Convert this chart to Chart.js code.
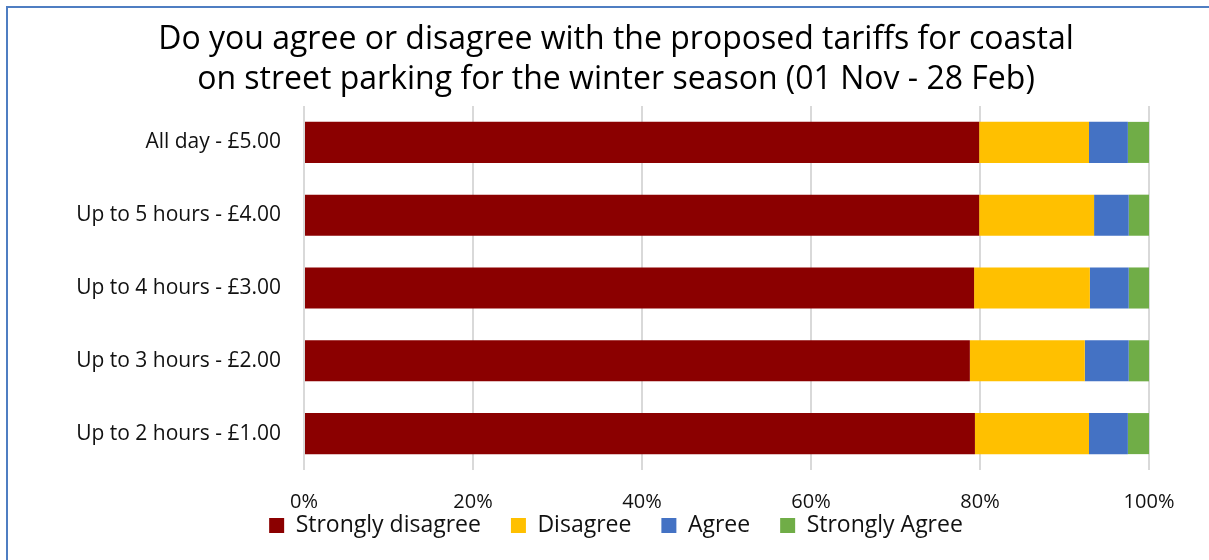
<!DOCTYPE html>
<html>
<head>
<meta charset="utf-8">
<script src="https://cdn.jsdelivr.net/npm/chart.js@4"></script>
<style>
  html, body { margin: 0; padding: 0; background: #fff; overflow: hidden; }
  #wrap { position: relative; width: 1209px; height: 560px; }
  #frame { position: absolute; left: 6px; top: 6px; width: 1300px; height: 700px;
           border-left: 2px solid #4F7EC2; border-top: 2px solid #4F7EC2; }
  #chart { position: absolute; left: 0; top: 0; }
</style>
</head>
<body>
<div id="wrap">
  <div id="frame"></div>
  <canvas id="chart" width="1209" height="560"></canvas>
</div>
<script>
// categories, top to bottom
const categories = [
  'All day - £5.00',
  'Up to 5 hours - £4.00',
  'Up to 4 hours - £3.00',
  'Up to 3 hours - £2.00',
  'Up to 2 hours - £1.00'
];

// shares in percent, same order as categories
const stronglyDisagree = [79.9, 79.9, 79.3, 78.8, 79.4];
const disagree         = [13.0, 13.6, 13.7, 13.6, 13.5];
const agree            = [4.6, 4.1, 4.6, 5.2, 4.6];
const stronglyAgree    = [2.5, 2.4, 2.4, 2.4, 2.5];

const seriesNames = ['Strongly disagree', 'Disagree', 'Agree', 'Strongly Agree'];
const xTicks = [0, 20, 40, 60, 80, 100];

const titleLines = [
  'Do you agree or disagree with the proposed tariffs for coastal',
  'on street parking for the winter season (01 Nov - 28 Feb)'
];

const COLORS = ['#8B0000', '#FFC000', '#4472C4', '#70AD47'];
const FONT = '"Open Sans", "Noto Sans", sans-serif';
const TEXT = '#111';

const seriesData = [stronglyDisagree, disagree, agree, stronglyAgree];

// tick labels may spill outside their (narrow) axis boxes, so drop the clip
function noLabelClip(scale) {
  scale._computeLabelArea = () => undefined;
}

const ctx = document.getElementById('chart').getContext('2d');
new Chart(ctx, {
  type: 'bar',
  data: {
    labels: categories,
    datasets: seriesData.map((d, i) => ({
      label: seriesNames[i],
      data: d,
      backgroundColor: COLORS[i],
      borderWidth: 0,
      categoryPercentage: 1,
      barPercentage: 0.564
    }))
  },
  options: {
    indexAxis: 'y',
    animation: false,
    responsive: false,
    layout: { padding: { left: 83, right: 60, top: 0, bottom: 13 } },
    scales: {
      x: {
        stacked: true,
        min: 0,
        max: 100,
        afterBuildTicks: (scale) => { scale.ticks = xTicks.map(v => ({ value: v })); },
        // keep the axis box thin so the labels sit just above the legend
        afterFit: (scale) => { scale.height = 14; noLabelClip(scale); },
        grid: { color: '#D9D9D9', lineWidth: 2, drawTicks: false },
        border: { display: false },
        ticks: {
          color: TEXT,
          font: { family: FONT, size: 20 },
          padding: 20,
          maxRotation: 0,
          autoSkip: false,
          callback: (v) => v + '%'
        }
      },
      y: {
        stacked: true,
        grid: { display: false, drawTicks: false },
        border: { display: false },
        afterFit: (scale) => { scale.width = 221; noLabelClip(scale); },
        ticks: {
          color: TEXT,
          font: { family: FONT, size: 21 },
          padding: 23
        }
      }
    },
    plugins: {
      title: {
        display: true,
        text: titleLines,
        color: '#000',
        font: { family: FONT, size: 32, weight: 'normal', lineHeight: 1.25 },
        padding: { top: 20, bottom: 6 }
      },
      legend: {
        position: 'bottom',
        labels: {
          color: TEXT,
          font: { family: FONT, size: 23 },
          boxWidth: 15,
          boxHeight: 15,
          padding: 30
        }
      },
      tooltip: { enabled: false }
    }
  }
});
</script>
</body>
</html>
